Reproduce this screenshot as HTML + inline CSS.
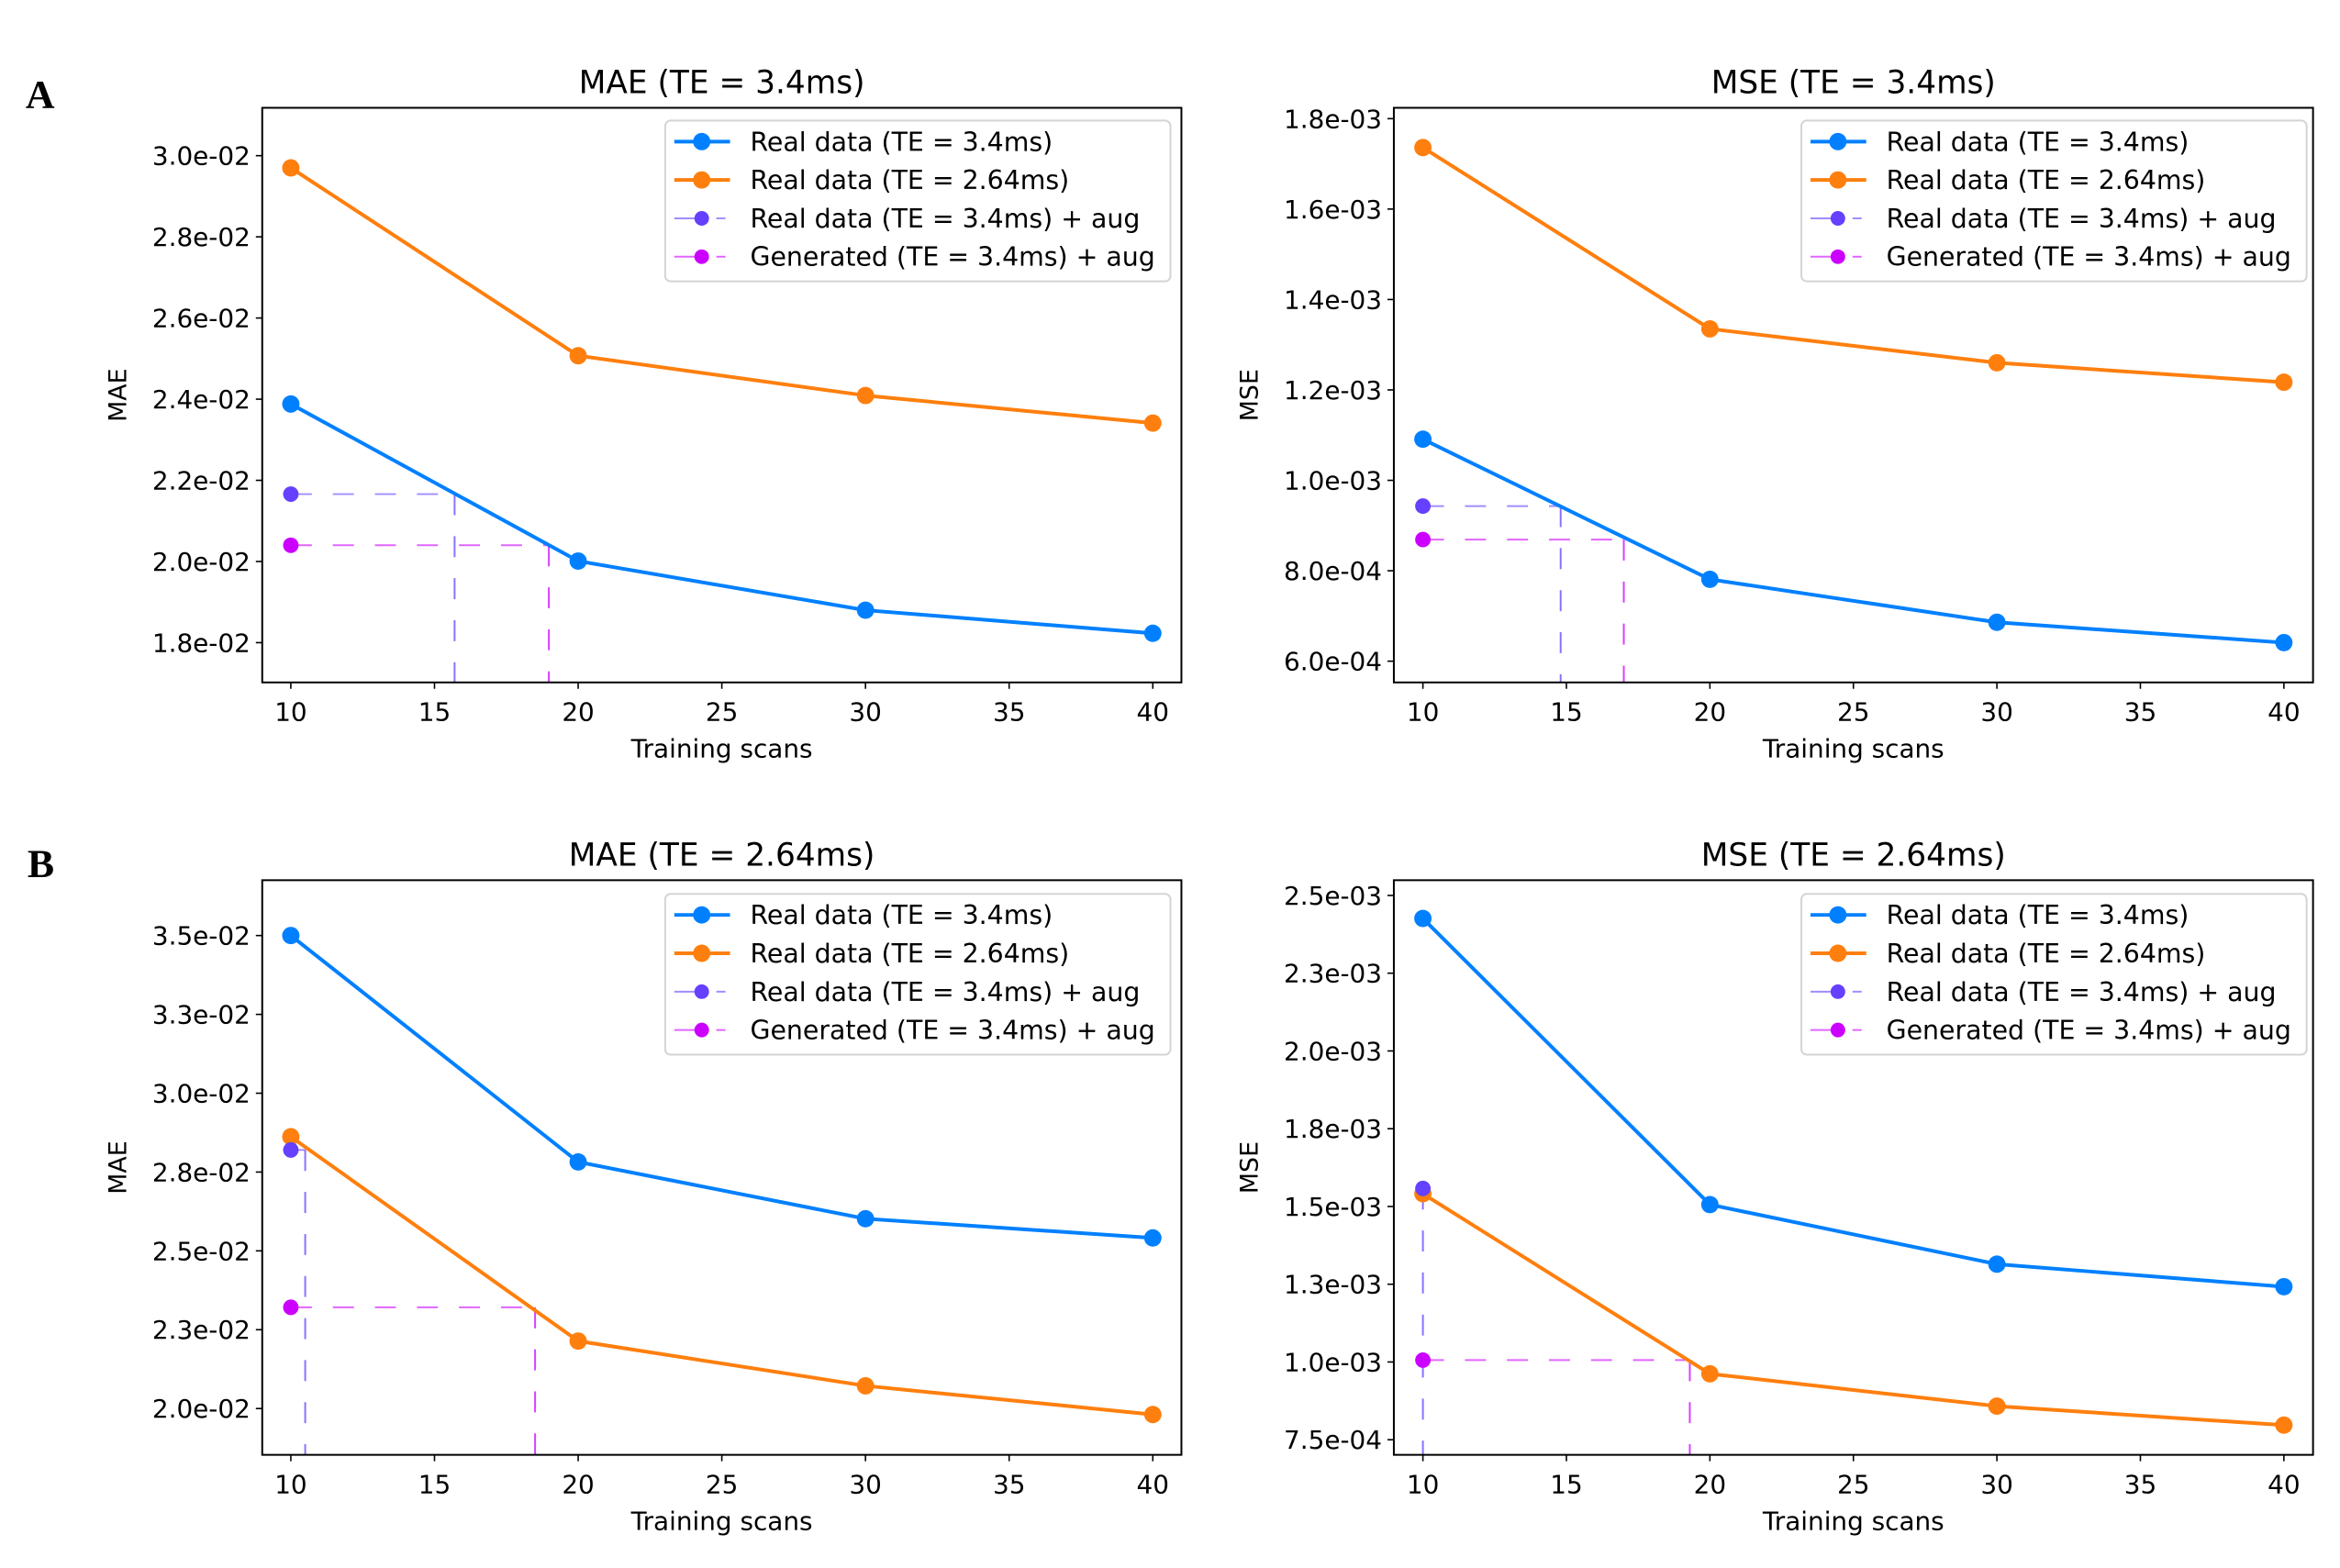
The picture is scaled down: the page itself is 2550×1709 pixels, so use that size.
<!DOCTYPE html>
<html><head><meta charset="utf-8"><style>
html,body{margin:0;padding:0;background:#fff;}
svg{display:block;font-family:"DejaVu Sans","Liberation Sans",sans-serif;}
</style></head><body>
<svg id="fig" xmlns="http://www.w3.org/2000/svg" width="2550" height="1709" viewBox="0 0 2550 1709">
<rect width="2550" height="1709" fill="#fff"/>
<g id="root" transform="scale(0.9957)">
<text x="28" y="118" font-family="Liberation Serif, serif" font-weight="bold" font-size="44">A</text>
<text x="30" y="960" font-family="Liberation Serif, serif" font-weight="bold" font-size="44">B</text>
</g>
</svg>
<script>
// ---- data ----
const xScans = [10, 20, 30, 40];
const xTicks = [10, 15, 20, 25, 30, 35, 40];
// Panel A MAE
const aMaeReal34 = [0.02388, 0.02001, 0.01880, 0.01823];
const aMaeReal264 = [0.02970, 0.02507, 0.02409, 0.02341];
const aMaeAug = [0.02166];
const aMaeGen = [0.02040];
const aMaeAugCross = [15.7];
const aMaeGenCross = [18.98];
const aMaeTicks = [0.018, 0.020, 0.022, 0.024, 0.026, 0.028, 0.030];
const aMaeTickLabels = ["1.8e-02","2.0e-02","2.2e-02","2.4e-02","2.6e-02","2.8e-02","3.0e-02"];
const aMaeLim = [0.01702, 0.03118];
// Panel A MSE
const aMseReal34 = [0.001091, 0.000781, 0.000686, 0.000641];
const aMseReal264 = [0.001736, 0.001335, 0.001260, 0.001217];
const aMseAug = [0.000943];
const aMseGen = [0.000869];
const aMseAugCross = [14.8];
const aMseGenCross = [17.0];
const aMseTicks = [0.0006, 0.0008, 0.0010, 0.0012, 0.0014, 0.0016, 0.0018];
const aMseTickLabels = ["6.0e-04","8.0e-04","1.0e-03","1.2e-03","1.4e-03","1.6e-03","1.8e-03"];
const aMseLim = [0.000553, 0.001824];
// Panel B MAE
const bMaeReal34 = [0.03500, 0.02782, 0.02602, 0.02541];
const bMaeReal264 = [0.02862, 0.02214, 0.02072, 0.01981];
const bMaeAug = [0.02820];
const bMaeGen = [0.02321];
const bMaeAugCross = [10.5];
const bMaeGenCross = [18.5];
const bMaeTicks = [0.020, 0.0225, 0.025, 0.0275, 0.030, 0.0325, 0.035];
const bMaeTickLabels = ["2.0e-02","2.3e-02","2.5e-02","2.8e-02","3.0e-02","3.3e-02","3.5e-02"];
const bMaeLim = [0.018532, 0.036755];
// Panel B MSE
const bMseReal34 = [0.002426, 0.001506, 0.0013145, 0.001242];
const bMseReal264 = [0.001541, 0.000962, 0.000858, 0.000797];
const bMseAug = [0.001558];
const bMseGen = [0.001006];
const bMseAugCross = [10.0];
const bMseGenCross = [19.3];
const bMseTicks = [0.00075, 0.001, 0.00125, 0.0015, 0.00175, 0.002, 0.00225, 0.0025];
const bMseTickLabels = ["7.5e-04","1.0e-03","1.3e-03","1.5e-03","1.8e-03","2.0e-03","2.3e-03","2.5e-03"];
const bMseLim = [0.0007015, 0.002549];

const legendLabels = ["Real data (TE = 3.4ms)","Real data (TE = 2.64ms)","Real data (TE = 3.4ms) + aug","Generated (TE = 3.4ms) + aug"];
const BLUE="#0080ff", ORANGE="#ff7f0e", PURPLE="#6640ff", MAGENTA="#cc00ff";
const NS="http://www.w3.org/2000/svg";
const svg=document.getElementById('root');
function mk(tag, attrs, parent){const e=document.createElementNS(NS,tag);for(const k in attrs)e.setAttribute(k,attrs[k]);(parent||svg).appendChild(e);return e;}

function panel(p){
  const g=mk('g',{});
  
  
  const L=p.box[0],T=p.box[1],R=p.box[2],B=p.box[3];
  const xs=v=>p.x10+(v-10)*(p.x40-p.x10)/30;
  const ys=v=>B-(v-p.lim[0])/(p.lim[1]-p.lim[0])*(B-T);
  const cx=(L+R)/2;
  let t=mk('text',{x:cx,y:T-16,'text-anchor':'middle','font-size':34.5},g);t.textContent=p.title;
  
  
  xTicks.forEach(v=>{
    mk('line',{x1:xs(v),x2:xs(v),y1:B,y2:B+7,stroke:'#000','stroke-width':1.6},g);
    const tt=mk('text',{x:xs(v),y:B+42,'text-anchor':'middle','font-size':28},g);tt.textContent=v;
    
    
  });
  p.ticks.forEach((v,i)=>{
    mk('line',{x1:L-7,x2:L,y1:ys(v),y2:ys(v),stroke:'#000','stroke-width':1.6},g);
    const tt=mk('text',{x:L-13,y:ys(v)+10,'text-anchor':'end','font-size':28},g);tt.textContent=p.tickLabels[i];
    
    
  });
  let xl=mk('text',{x:cx,y:B+82,'text-anchor':'middle','font-size':28},g);xl.textContent='Training scans';
  
  
  const yx=p.ylabX, yy=(T+B)/2;
  let yl=mk('text',{x:yx,y:yy,'text-anchor':'middle','font-size':27,transform:`rotate(-90 ${yx} ${yy})`},g);yl.textContent=p.ylab;
  
  
  const guide=(vals,cross,col,nm)=>{
    const y=ys(vals[0]), xc=xs(cross[0]);
    const l1=mk('path',{d:`M${xs(10)},${y}H${xc}`,stroke:col,'stroke-width':2,'stroke-dasharray':'23 23',fill:'none',opacity:0.6},g);
    
    
    const l2=mk('path',{d:`M${xc},${y}V${B}`,stroke:col,'stroke-width':2,'stroke-dasharray':'23 23',fill:'none',opacity:0.75},g);
    
    
  };
  guide(p.aug,p.augCross,PURPLE,'real-aug');
  guide(p.gen,p.genCross,MAGENTA,'generated-aug');
  const series=(vals,col,nm)=>{
    const pl=mk('polyline',{points:vals.map((v,i)=>xs(xScans[i])+','+ys(v)).join(' '),fill:'none',stroke:col,'stroke-width':4,'stroke-linejoin':'round'},g);
    
    
    vals.forEach((v,i)=>{
      const c=mk('circle',{cx:xs(xScans[i]),cy:ys(v),r:9.5,fill:col},g);
      
      
    });
  };
  series(p.r34,BLUE,'real-3-4ms');
  series(p.r264,ORANGE,'real-2-64ms');
  let c1=mk('circle',{cx:xs(10),cy:ys(p.aug[0]),r:8.5,fill:PURPLE},g);
  
  
  let c2=mk('circle',{cx:xs(10),cy:ys(p.gen[0]),r:8.5,fill:MAGENTA},g);
  
  
  mk('rect',{x:L,y:T,width:R-L,height:B-T,fill:'none',stroke:'#000','stroke-width':2},g);
  const lg=mk('g',{},g);
  
  
  const lx=p.leg[0], ly=p.leg[1];
  mk('rect',{x:lx,y:ly,width:p.leg[2],height:176,rx:6,fill:'#fff',stroke:'#d0d0d0','stroke-width':2,opacity:0.9},lg);
  const cols=[BLUE,ORANGE,PURPLE,MAGENTA];
  legendLabels.forEach((lab,i)=>{
    const y=ly+23+42*i;
    const e=mk('g',{},lg);
    
    
    if(i<2) mk('line',{x1:lx+10,x2:lx+71,y1:y,y2:y,stroke:cols[i],'stroke-width':4},e);
    else { mk('line',{x1:lx+10,x2:lx+40,y1:y,y2:y,stroke:cols[i],'stroke-width':2,opacity:0.6},e);
           mk('line',{x1:lx+56,x2:lx+66,y1:y,y2:y,stroke:cols[i],'stroke-width':2,opacity:0.6},e);}
    mk('circle',{cx:lx+40,cy:y,r:i<2?9.5:8,fill:cols[i]},e);
    const tt=mk('text',{x:lx+93,y:y+10,'font-size':28.5},e);tt.textContent=lab;
  });
}
const DX=6.5, DY=6.5;
const LB=[287,118,1293,747], RB=[1519+DX,118,2525+DX,747], LB2=[287,957+DY,1293,1586+DY], RB2=[1519+DX,957+DY,2525+DX,1586+DY];
panel({name:'mae-te-3-4-chart',title:'MAE (TE = 3.4ms)',ylab:'MAE',ylabX:138,box:LB,x10:318.3,x40:1261.7,lim:aMaeLim,ticks:aMaeTicks,tickLabels:aMaeTickLabels,r34:aMaeReal34,r264:aMaeReal264,aug:aMaeAug,gen:aMaeGen,augCross:aMaeAugCross,genCross:aMaeGenCross,leg:[728,132,553]});
panel({name:'mse-te-3-4-chart',title:'MSE (TE = 3.4ms)',ylab:'MSE',ylabX:1370+DX,box:RB,x10:1550.8+DX,x40:2493.1+DX,lim:aMseLim,ticks:aMseTicks,tickLabels:aMseTickLabels,r34:aMseReal34,r264:aMseReal264,aug:aMseAug,gen:aMseGen,augCross:aMseAugCross,genCross:aMseGenCross,leg:[1965+DX,132,553]});
panel({name:'mae-te-2-64-chart',title:'MAE (TE = 2.64ms)',ylab:'MAE',ylabX:138,box:LB2,x10:318.3,x40:1261.7,lim:bMaeLim,ticks:bMaeTicks,tickLabels:bMaeTickLabels,r34:bMaeReal34,r264:bMaeReal264,aug:bMaeAug,gen:bMaeGen,augCross:bMaeAugCross,genCross:bMaeGenCross,leg:[728,972+DY,553]});
panel({name:'mse-te-2-64-chart',title:'MSE (TE = 2.64ms)',ylab:'MSE',ylabX:1370+DX,box:RB2,x10:1550.8+DX,x40:2493.1+DX,lim:bMseLim,ticks:bMseTicks,tickLabels:bMseTickLabels,r34:bMseReal34,r264:bMseReal264,aug:bMseAug,gen:bMseGen,augCross:bMseAugCross,genCross:bMseGenCross,leg:[1965+DX,972+DY,553]});
</script>
</body></html>
